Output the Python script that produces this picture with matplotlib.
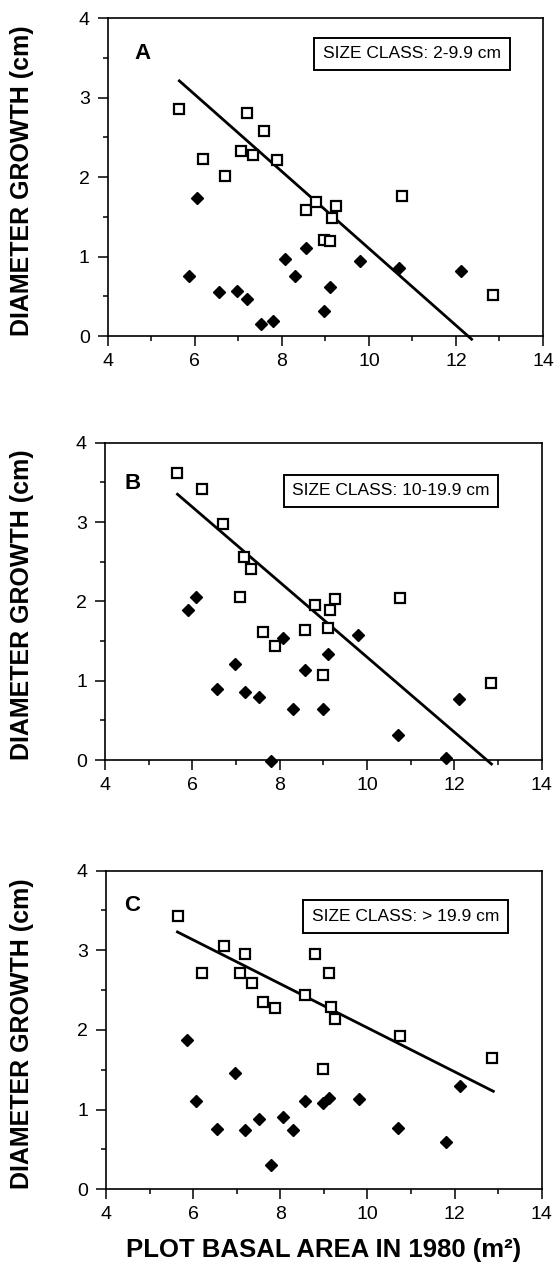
import matplotlib
matplotlib.use("Agg")
import matplotlib.pyplot as plt
import numpy as np
from matplotlib.ticker import MultipleLocator

plt.rcParams['font.family'] = ['Liberation Sans', 'DejaVu Sans']

# Panel A: size class 2-9.9 cm
a_sq_x = [5.64, 6.20, 6.69, 7.06, 7.20, 7.33, 7.60, 7.89, 8.56, 8.79, 9.24, 9.16, 8.98, 9.11, 10.75, 12.84]
a_sq_y = [2.85, 2.23, 2.01, 2.33, 2.81, 2.28, 2.58, 2.21, 1.58, 1.68, 1.64, 1.48, 1.21, 1.19, 1.76, 0.52]
a_dm_x = [6.04, 5.87, 6.56, 6.96, 7.21, 7.51, 7.79, 8.07, 8.30, 8.56, 9.11, 8.98, 9.79, 10.69, 12.11]
a_dm_y = [1.74, 0.76, 0.55, 0.57, 0.47, 0.15, 0.19, 0.97, 0.75, 1.11, 0.62, 0.31, 0.94, 0.85, 0.82]
a_line_x = [5.645, 12.36]
a_line_y = [3.21, -0.04]

# Panel B: size class 10-19.9 cm
b_sq_x = [5.66, 6.22, 6.71, 7.19, 7.34, 7.08, 7.61, 7.90, 8.57, 8.80, 9.16, 9.26, 9.11, 8.99, 10.75, 12.85]
b_sq_y = [3.62, 3.42, 2.97, 2.56, 2.41, 2.06, 1.61, 1.44, 1.64, 1.96, 1.89, 2.03, 1.67, 1.07, 2.04, 0.97]
b_dm_x = [5.89, 6.08, 6.56, 6.97, 7.20, 7.53, 7.80, 8.07, 8.30, 8.57, 8.99, 9.11, 9.79, 10.70, 11.80, 12.11]
b_dm_y = [1.89, 2.06, 0.89, 1.21, 0.86, 0.79, -0.01, 1.54, 0.64, 1.14, 0.64, 1.34, 1.58, 0.32, 0.02, 0.77]
b_line_x = [5.66, 12.85]
b_line_y = [3.35, -0.05]

# Panel C: size class > 19.9 cm
c_sq_x = [5.65, 6.20, 6.70, 7.07, 7.19, 7.34, 7.61, 7.89, 8.56, 8.79, 9.11, 9.16, 9.26, 8.99, 10.75, 12.86]
c_sq_y = [3.43, 2.72, 3.05, 2.72, 2.95, 2.59, 2.35, 2.27, 2.44, 2.95, 2.72, 2.29, 2.14, 1.51, 1.92, 1.65]
c_dm_x = [5.87, 6.07, 6.55, 6.97, 7.19, 7.52, 7.79, 8.07, 8.30, 8.57, 8.99, 9.11, 9.81, 10.71, 11.80, 12.13]
c_dm_y = [1.87, 1.11, 0.76, 1.46, 0.74, 0.88, 0.31, 0.91, 0.74, 1.11, 1.08, 1.15, 1.13, 0.77, 0.59, 1.30]
c_line_x = [5.64, 12.89]
c_line_y = [3.23, 1.23]

panel_letters = ['A', 'B', 'C']
size_labels = ['SIZE CLASS: 2-9.9 cm', 'SIZE CLASS: 10-19.9 cm', 'SIZE CLASS: > 19.9 cm']
x_ticks = [4, 6, 8, 10, 12, 14]
y_ticks = [0, 1, 2, 3, 4]

fig = plt.figure(figsize=(5.55, 12.71), dpi=100)
rects = [
    [0.1941, 0.7356, 0.7843, 0.2502],
    [0.1892, 0.4020, 0.7868, 0.2497],
    [0.1910, 0.0643, 0.7850, 0.2507],
]
letter_pos = [(0.081, 0.89), (0.062, 0.87), (0.060, 0.892)]
box_pos = [(0.699, 0.887), (0.655, 0.848), (0.687, 0.856)]

data = [
    (a_sq_x, a_sq_y, a_dm_x, a_dm_y, a_line_x, a_line_y),
    (b_sq_x, b_sq_y, b_dm_x, b_dm_y, b_line_x, b_line_y),
    (c_sq_x, c_sq_y, c_dm_x, c_dm_y, c_line_x, c_line_y),
]

for i, (sx, sy, dx, dy, lx, ly) in enumerate(data):
    ax = fig.add_axes(rects[i])
    ax.plot(lx, ly, color='black', lw=2.0, clip_on=False, zorder=2)
    ax.plot(dx, dy, linestyle='none', marker='D', ms=6.0, color='black',
            clip_on=False, zorder=3)
    ax.plot(sx, sy, linestyle='none', marker='s', ms=6.8, mfc='white',
            mec='black', mew=1.6, clip_on=False, zorder=4)
    ax.set_xlim(4, 14)
    ax.set_ylim(0, 4)
    ax.set_xticks(x_ticks)
    ax.set_yticks(y_ticks)
    ax.xaxis.set_minor_locator(MultipleLocator(1))
    ax.yaxis.set_minor_locator(MultipleLocator(0.5))
    ax.tick_params(which='major', direction='out', length=7, width=1.1,
                   labelsize=14)
    ax.tick_params(axis='x', which='major', pad=5)
    ax.tick_params(axis='y', which='major', pad=6)
    ax.tick_params(which='minor', direction='out', length=3.5, width=1.1)
    for s in ax.spines.values():
        s.set_linewidth(1.2)
    ax.text(letter_pos[i][0], letter_pos[i][1], panel_letters[i],
            transform=ax.transAxes, fontsize=16, fontweight='bold',
            ha='center', va='center')
    ax.text(box_pos[i][0], box_pos[i][1], size_labels[i],
            transform=ax.transAxes, fontsize=12.5, ha='center', va='center',
            bbox=dict(boxstyle='square,pad=0.5', fc='white', ec='black', lw=1.4))
    yc = rects[i][1] + rects[i][3] / 2
    fig.text(22 / 555, yc - 0.003, 'DIAMETER GROWTH (cm)', rotation=90,
             fontsize=18, fontweight='bold', ha='center', va='center')

fig.text(324 / 555, 1 - 1250 / 1271, 'PLOT BASAL AREA IN 1980 (m²)',
         fontsize=18.5, fontweight='bold', ha='center', va='center')

fig.savefig('out.png', dpi=100)
